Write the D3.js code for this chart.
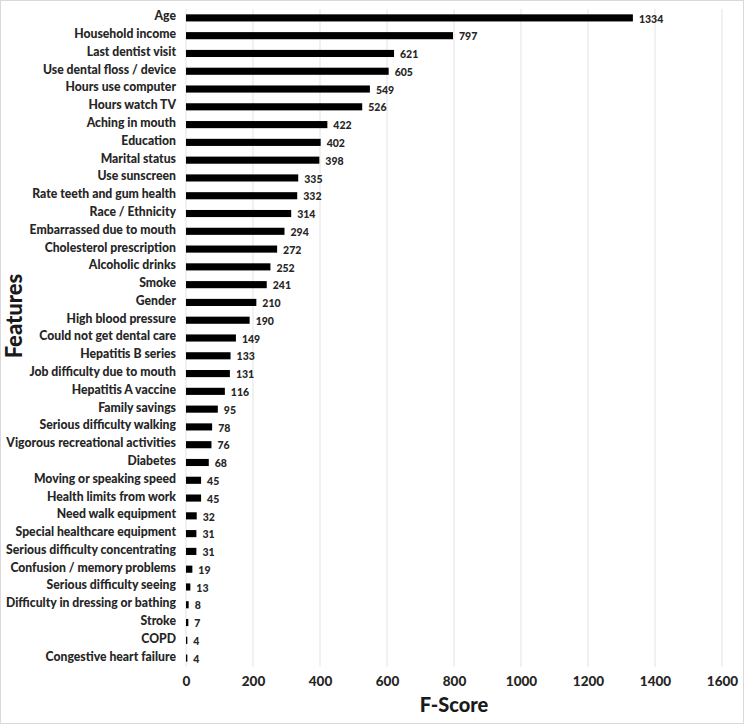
<!DOCTYPE html>
<html><head><meta charset="utf-8">
<script src="https://cdn.jsdelivr.net/npm/d3@7"></script>
<style>body{margin:0;background:#fff}svg{display:block}</style>
</head><body>
<script>
const features = ["Age","Household income","Last dentist visit","Use dental floss / device","Hours use computer","Hours watch TV","Aching in mouth","Education","Marital status","Use sunscreen","Rate teeth and gum health","Race / Ethnicity","Embarrassed due to mouth","Cholesterol prescription","Alcoholic drinks","Smoke","Gender","High blood pressure","Could not get dental care","Hepatitis B series","Job difficulty due to mouth","Hepatitis A vaccine","Family savings","Serious difficulty walking","Vigorous recreational activities","Diabetes","Moving or speaking speed","Health limits from work","Need walk equipment","Special healthcare equipment","Serious difficulty concentrating","Confusion / memory problems","Serious difficulty seeing","Difficulty in dressing or bathing","Stroke","COPD","Congestive heart failure"];
const fScores = [1334,797,621,605,549,526,422,402,398,335,332,314,294,272,252,241,210,190,149,133,131,116,95,78,76,68,45,45,32,31,31,19,13,8,7,4,4];
const xTicks = [0,200,400,600,800,1000,1200,1400,1600];

const W=744,H=724;
const m={left:186,right:22,top:9,bottom:57};
const svg=d3.select("body").append("svg").attr("width",W).attr("height",H);
svg.append("rect").attr("x",0.5).attr("y",0.5).attr("width",W-1).attr("height",H-1).attr("fill","#fff").attr("stroke","#d9d9d9");

const x=d3.scaleLinear().domain([0,1600]).range([m.left,W-m.right]);
const y=d3.scaleBand().domain(features).range([m.top,H-m.bottom]).paddingInner(0.6).paddingOuter(0.3);

svg.append("g").selectAll("line").data(xTicks).join("line")
  .attr("x1",d=>x(d)).attr("x2",d=>x(d)).attr("y1",m.top).attr("y2",H-m.bottom)
  .attr("stroke","#e3e3e3").attr("stroke-width",1);

const font="Lato, 'Open Sans', sans-serif";
svg.append("g").selectAll("rect").data(features).join("rect")
  .attr("x",x(0)).attr("y",d=>y(d)).attr("height",y.bandwidth())
  .attr("width",(d,i)=>x(fScores[i])-x(0)).attr("fill","#000");

svg.append("g").selectAll("text").data(features).join("text")
  .attr("x",(d,i)=>x(fScores[i])+6).attr("y",d=>y(d)+y.bandwidth()/2+1)
  .attr("dy","0.35em").attr("font-family",font).attr("font-weight",900)
  .attr("font-size",10.5).attr("fill","#262626").text((d,i)=>fScores[i]);

const yAxis=d3.axisLeft(y).tickSize(0).tickPadding(10);
const gy=svg.append("g").attr("transform",`translate(${m.left},0)`).call(yAxis);
gy.select(".domain").remove();
gy.selectAll("text").attr("font-family",font).attr("font-weight",900).attr("font-size",12.2).attr("fill","#262626").attr("dy","0.2em");

const xAxis=d3.axisBottom(x).tickValues(xTicks).tickFormat(d3.format("d")).tickSize(0).tickPadding(9);
const gx=svg.append("g").attr("transform",`translate(0,${H-m.bottom})`).call(xAxis);
gx.select(".domain").remove();
gx.selectAll("text").attr("font-family",font).attr("font-weight",900).attr("font-size",13.5).attr("fill","#262626");

svg.append("text").attr("x",(x(0)+x(1600))/2).attr("y",712).attr("text-anchor","middle")
  .attr("font-family",font).attr("font-weight",900).attr("font-size",20).attr("fill","#1a1a1a").text("F-Score");
svg.append("text").attr("transform","translate(22,316) rotate(-90)").attr("text-anchor","middle")
  .attr("font-family",font).attr("font-weight",900).attr("font-size",22).attr("fill","#1a1a1a").text("Features");
</script>
</body></html>
